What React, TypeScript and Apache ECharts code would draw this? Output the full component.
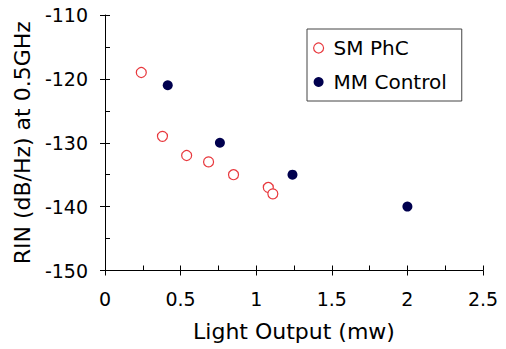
import React, { useEffect, useRef } from "react";
import * as echarts from "echarts";

const smX = [0.24, 0.38, 0.54, 0.685, 0.85, 1.08, 1.11];
const smY = [-119, -129, -132, -133, -135, -137, -138];
const mmX = [0.415, 0.76, 1.24, 2.0];
const mmY = [-121, -130, -135, -140];
const xTicks = [0, 0.5, 1, 1.5, 2, 2.5];
const yTicks = [-150, -140, -130, -120, -110];

const RED = "#e8383d";
const NAVY = "#00004e";
const FONT = "DejaVu Sans";

export default function App() {
  const ref = useRef<HTMLDivElement>(null);
  useEffect(() => {
    if (!ref.current) return;
    const chart = echarts.init(ref.current, null, { renderer: "svg" });
    const xMin = xTicks[0];
    const xMax = xTicks[xTicks.length - 1];
    const yMin = yTicks[0];
    const yMax = yTicks[yTicks.length - 1];
    chart.setOption({
      animation: false,
      backgroundColor: "#fff",
      grid: { left: 105, right: 23, top: 15, bottom: 78.5, containLabel: false },
      legend: {
        orient: "vertical",
        left: 307,
        top: 29,
        padding: [7, 15, 7, 6],
        itemGap: 10,
        itemWidth: 20,
        itemHeight: 10,
        borderColor: "#444",
        borderWidth: 1,
        textStyle: { fontFamily: FONT, fontSize: 20, color: "#000", lineHeight: 24 },
        data: [
          { name: "SM PhC", icon: "circle", itemStyle: { color: "#fff", borderColor: RED, borderWidth: 1.2 } },
          { name: "MM Control", icon: "circle", itemStyle: { color: NAVY } },
        ],
      },
      xAxis: [
        {
          type: "value",
          min: xMin,
          max: xMax,
          interval: 0.5,
          position: "bottom",
          name: "Light Output (mw)",
          nameLocation: "middle",
          nameGap: 50,
          nameTextStyle: { fontFamily: FONT, fontSize: 22, color: "#000" },
          axisLine: { show: true, onZero: false, lineStyle: { color: "#000", width: 1 } },
          axisTick: { show: true, inside: false, length: 5, lineStyle: { color: "#000" } },
          axisLabel: { fontFamily: FONT, fontSize: 19, color: "#000", margin: 19 },
          splitLine: { show: false },
        },
        {
          type: "value",
          min: xMin,
          max: xMax,
          interval: 0.25,
          position: "bottom",
          axisLine: { show: false, onZero: false },
          axisTick: { show: true, inside: true, length: 5, lineStyle: { color: "#000" } },
          axisLabel: { show: false },
          splitLine: { show: false },
        },
      ],
      yAxis: [
        {
          type: "value",
          min: yMin,
          max: yMax,
          interval: 10,
          position: "left",
          name: "RIN (dB/Hz) at 0.5GHz",
          nameLocation: "middle",
          nameGap: 65,
          nameTextStyle: { fontFamily: FONT, fontSize: 22, color: "#000" },
          axisLine: { show: true, onZero: false, lineStyle: { color: "#000", width: 1 } },
          axisTick: { show: true, inside: false, length: 5, lineStyle: { color: "#000" } },
          axisLabel: { fontFamily: FONT, fontSize: 19, color: "#000", margin: 17 },
          splitLine: { show: false },
        },
        {
          type: "value",
          min: yMin,
          max: yMax,
          interval: 5,
          position: "left",
          axisLine: { show: false, onZero: false },
          axisTick: { show: true, inside: true, length: 5, lineStyle: { color: "#000" } },
          axisLabel: { show: false },
          splitLine: { show: false },
        },
      ],
      series: [
        {
          name: "SM PhC",
          type: "scatter",
          xAxisIndex: 0,
          yAxisIndex: 0,
          symbol: "circle",
          symbolSize: 10,
          itemStyle: { color: "#fff", borderColor: RED, borderWidth: 1.2, opacity: 1 },
          data: smX.map((x, i) => [x, smY[i]]),
        },
        {
          name: "MM Control",
          type: "scatter",
          xAxisIndex: 0,
          yAxisIndex: 0,
          symbol: "circle",
          symbolSize: 10,
          itemStyle: { color: NAVY, opacity: 1 },
          data: mmX.map((x, i) => [x, mmY[i]]),
        },
      ],
    });
    return () => chart.dispose();
  }, []);
  return (
    <div
      ref={ref}
      style={{ position: "fixed", left: 0, top: 0, width: 506, height: 349, background: "#fff" }}
    />
  );
}
